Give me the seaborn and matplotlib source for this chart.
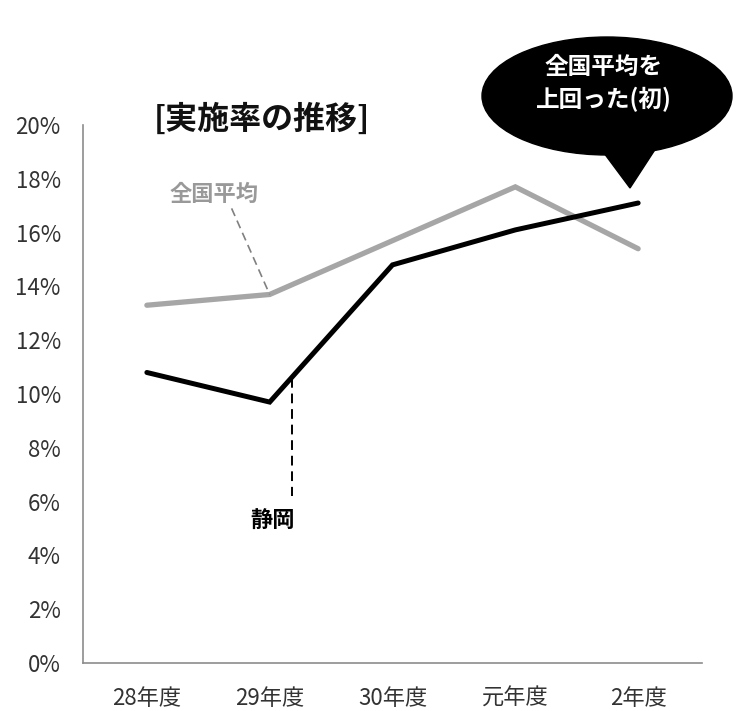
import matplotlib
matplotlib.use("Agg")
import matplotlib.pyplot as plt
import seaborn as sns
import pandas as pd
from matplotlib.patches import Ellipse, Polygon
from matplotlib.ticker import FuncFormatter

# data
years = ["28年度", "29年度", "30年度", "元年度", "2年度"]
national_avg = [13.3, 13.7, 15.7, 17.7, 15.4]
shizuoka = [10.8, 9.7, 14.8, 16.1, 17.1]
y_ticks = [0, 2, 4, 6, 8, 10, 12, 14, 16, 18, 20]

GRAY = "#A6A6A6"
AXIS_GRAY = "#8C8C8C"

sns.set_style("white")
plt.rcParams["font.family"] = ["Noto Sans CJK JP", "DejaVu Sans"]

df = pd.DataFrame({
    "pos": list(range(len(years))) * 2,
    "rate": national_avg + shizuoka,
    "series": ["全国平均"] * len(years) + ["静岡"] * len(years),
})

fig = plt.figure(figsize=(7.55, 7.11), dpi=100)
ax = fig.add_axes([83 / 755, 48 / 711, 619 / 755, 538 / 711])

sns.lineplot(data=df, x="pos", y="rate", hue="series",
             palette={"全国平均": GRAY, "静岡": "black"},
             size="series", sizes={"全国平均": 3.8, "静岡": 3.6},
             legend=False, ax=ax, solid_capstyle="round", solid_joinstyle="miter")

ax.set_xlim(-0.52, 4.52)
ax.set_ylim(0, 20)
ax.set_xticks(range(len(years)))
ax.set_xticklabels(years)
ax.set_yticks(y_ticks)
ax.yaxis.set_major_formatter(FuncFormatter(lambda v, _: f"{v:.0f}%"))
ax.set_xlabel("")
ax.set_ylabel("")
ax.tick_params(axis="both", length=0, labelsize=16, colors="#333333")
ax.tick_params(axis="y", pad=16)
ax.tick_params(axis="x", pad=17)
for side in ["top", "right"]:
    ax.spines[side].set_visible(False)
for side in ["left", "bottom"]:
    ax.spines[side].set_color(AXIS_GRAY)
    ax.spines[side].set_linewidth(1.2)

# title
ax.text(0.94, 20.18, "[実施率の推移]", fontsize=23, fontweight="bold",
        ha="center", va="center", color="#111111")

# series labels with dashed leaders
ax.text(0.55, 17.4, "全国平均", fontsize=16, fontweight="bold",
        ha="center", va="center", color="#999999")
ax.plot([0.69, 1.0], [16.9, national_avg[1]], color="#808080",
        lw=1.2, ls=(0, (5, 3)))
ax.text(1.02, 5.25, "静岡", fontsize=16, fontweight="bold",
        ha="center", va="center", color="black")
ax.plot([1.18, 1.18], [10.6, 6.2], color="black", lw=1.4, ls=(0, (5, 3)))

# speech bubble in pixel coordinates
over = fig.add_axes([0, 0, 1, 1], zorder=5)
over.set_xlim(0, 755)
over.set_ylim(711, 0)
over.axis("off")
over.add_patch(Ellipse((607, 96), 250, 118, color="black"))
over.add_patch(Polygon([(598, 145), (658, 145), (630, 188)], closed=True,
                       color="black"))
over.text(604, 67, "全国平均を", fontsize=17, fontweight="bold",
          color="white", ha="center", va="center")
over.text(604, 99, "上回った(初)", fontsize=17, fontweight="bold",
          color="white", ha="center", va="center")

fig.savefig("out.png", dpi=100)
